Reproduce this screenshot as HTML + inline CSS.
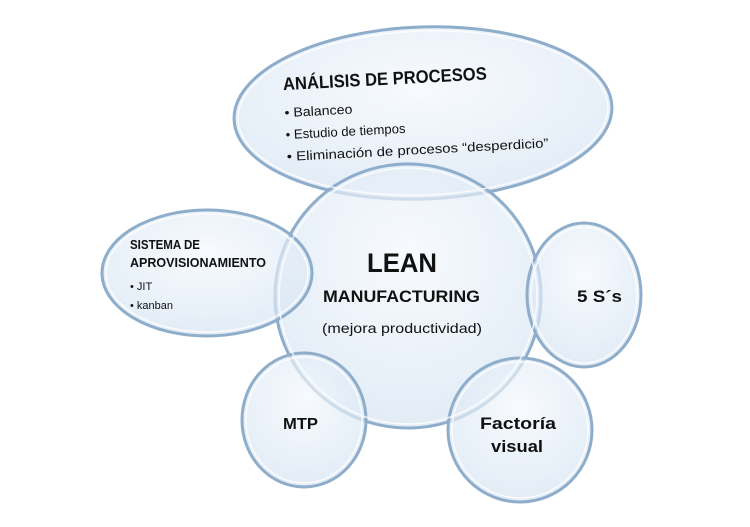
<!DOCTYPE html>
<html><head><meta charset="utf-8"><style>
html,body{margin:0;padding:0;background:#fff;width:750px;height:527px;overflow:hidden}
svg{display:block}
text{font-family:"Liberation Sans",sans-serif;fill:#111}
</style></head><body>
<svg width="750" height="527" viewBox="0 0 750 527">
<defs>
<radialGradient id="g" cx="50%" cy="35%" r="65%">
<stop offset="0" stop-color="#f4f8fd" stop-opacity="0.7"/>
<stop offset="1" stop-color="#d6e4f2" stop-opacity="0.7"/>
</radialGradient>
</defs>
<g fill="url(#g)" stroke="#8eadca" stroke-width="3">
<ellipse cx="423" cy="113" rx="189" ry="86" transform="rotate(-2 423 113)"/>
<ellipse cx="408" cy="296" rx="133" ry="132"/>
<ellipse cx="207" cy="273" rx="105" ry="63"/>
<ellipse cx="584" cy="295" rx="57" ry="72"/>
<ellipse cx="304" cy="420" rx="62" ry="67"/>
<ellipse cx="520" cy="430" rx="72" ry="72"/>
</g>
<g fill="none" stroke="#fff" stroke-width="1.5" opacity="0.8">
<ellipse cx="423" cy="113" rx="185" ry="82" transform="rotate(-2 423 113)"/>
<ellipse cx="408" cy="296" rx="129" ry="128"/>
<ellipse cx="207" cy="273" rx="101" ry="59"/>
<ellipse cx="584" cy="295" rx="53" ry="68"/>
<ellipse cx="304" cy="420" rx="58" ry="63"/>
<ellipse cx="520" cy="430" rx="68" ry="68"/>
</g>
<g transform="rotate(-3 420 100)">
<text x="284" y="83" font-size="18" font-weight="bold" textLength="204" lengthAdjust="spacingAndGlyphs">ANÁLISIS  DE PROCESOS</text>
<text x="284" y="110" font-size="13" textLength="68" lengthAdjust="spacingAndGlyphs">• Balanceo</text>
<text x="284" y="132" font-size="13" textLength="120" lengthAdjust="spacingAndGlyphs">• Estudio de tiempos</text>
<text x="284" y="154" font-size="13" textLength="262" lengthAdjust="spacingAndGlyphs">• Eliminación de  procesos “desperdicio”</text>
</g>
<text x="130" y="249" font-size="12.5" font-weight="bold" textLength="70" lengthAdjust="spacingAndGlyphs">SISTEMA DE</text>
<text x="130" y="267" font-size="12.5" font-weight="bold" textLength="136" lengthAdjust="spacingAndGlyphs">APROVISIONAMIENTO</text>
<text x="130" y="290" font-size="11">• JIT</text>
<text x="130" y="309" font-size="11">• kanban</text>
<text x="367" y="272" font-size="27" font-weight="bold" textLength="70" lengthAdjust="spacingAndGlyphs">LEAN</text>
<text x="323" y="302" font-size="16.5" font-weight="bold" textLength="157" lengthAdjust="spacingAndGlyphs">MANUFACTURING</text>
<text x="322" y="333" font-size="14" textLength="160" lengthAdjust="spacingAndGlyphs">(mejora productividad)</text>
<text x="577" y="302" font-size="17" font-weight="bold" textLength="45" lengthAdjust="spacingAndGlyphs">5 S´s</text>
<text x="283" y="429" font-size="16" font-weight="bold" textLength="35" lengthAdjust="spacingAndGlyphs">MTP</text>
<text x="480" y="429" font-size="17" font-weight="bold" textLength="76" lengthAdjust="spacingAndGlyphs">Factoría</text>
<text x="491" y="452" font-size="17" font-weight="bold" textLength="52" lengthAdjust="spacingAndGlyphs">visual</text>
</svg>
</body></html>
